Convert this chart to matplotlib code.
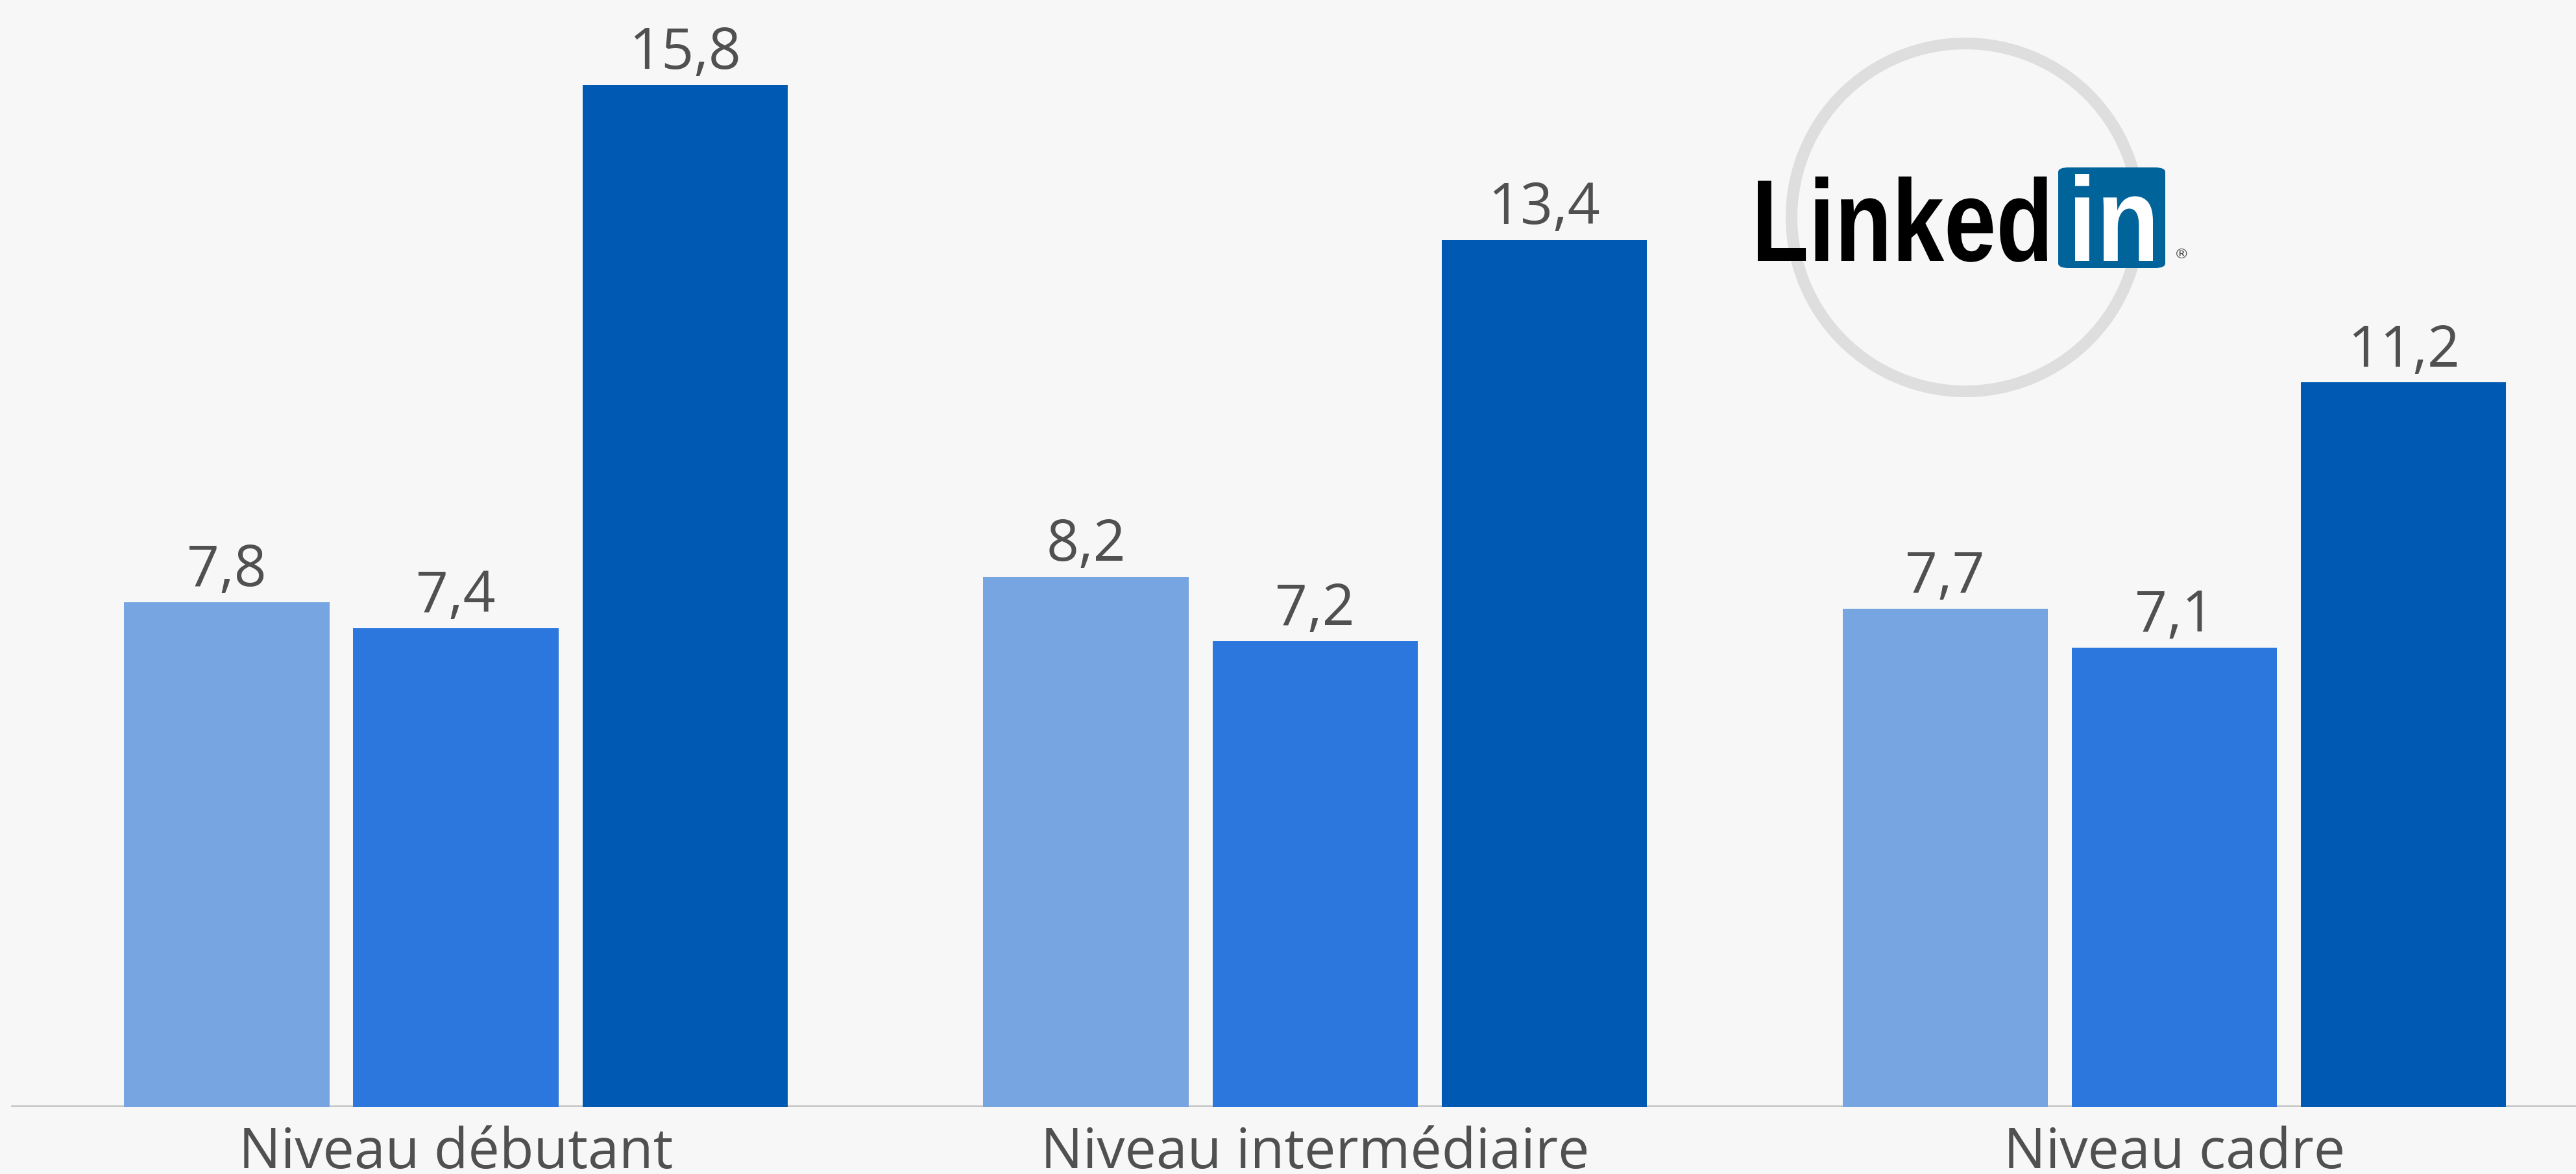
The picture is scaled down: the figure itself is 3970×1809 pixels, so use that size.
import numpy as np
import matplotlib
matplotlib.use("Agg")
import matplotlib.pyplot as plt
from matplotlib.textpath import TextPath
from matplotlib.font_manager import FontProperties
from matplotlib.patches import PathPatch, FancyBboxPatch, Ellipse
from matplotlib.transforms import Affine2D

# data
categories = ["Niveau débutant", "Niveau intermédiaire", "Niveau cadre"]
serie_a = [7.8, 8.2, 7.7]
serie_b = [7.4, 7.2, 7.1]
serie_c = [15.8, 13.4, 11.2]
colors = ["#76a5e1", "#2b77de", "#005ab3"]

W, H = 3970, 1809
bg = "#f7f7f7"
txt_col = "#505050"

fig = plt.figure(figsize=(W / 100, H / 100), dpi=100, facecolor=bg)
base_px = 1706
ax = fig.add_axes([17 / W, 1 - base_px / H, 1 - 17 / W, base_px / H])
ax.set_facecolor(bg)

x = np.arange(len(categories))
off = 0.2667
width = 0.239
for i, (vals, c) in enumerate(zip([serie_a, serie_b, serie_c], colors)):
    xs = x + (i - 1) * off
    ax.bar(xs, vals, width=width, color=c, zorder=3)
    for xx, v in zip(xs, vals):
        ax.text(xx, v + 0.25, f"{v:.1f}".replace(".", ","), ha="center", va="baseline",
                fontsize=63, color=txt_col, family="Open Sans", zorder=4)

# category labels sit right at the bottom edge, like the original
for xx, lab in zip(x, categories):
    ax.annotate(lab, xy=(xx, 0), xycoords=("data", "axes fraction"),
                xytext=(0, -68), textcoords="offset points", ha="center", va="baseline",
                fontsize=62, color=txt_col, family="Open Sans")

ax.axhline(0, color="#c8c8c8", lw=4, zorder=2)
ax.set_xlim((6.7 - 277.5) / 523, (1568 - 277.5) / 523)
ax.set_ylim(0, base_px / 99.69)
ax.axis("off")


# logo
def fx(px):
    return px / W


def fy(py):
    return 1 - py / H


ring = Ellipse((fx(3029), fy(335)), 2 * 268 / W, 2 * 268 / H, transform=fig.transFigure,
               fill=False, ec="#dedede", lw=13)
fig.patches.append(ring)


def fit_text(s, x0, x1, ytop, ybase, color):
    tp = TextPath((0, 0), s, size=100, prop=FontProperties(family="Liberation Sans", weight="bold"))
    ext = tp.get_extents()
    sx = (x1 - x0) / ext.width
    sy = (ybase - ytop) / ext.y1
    tr = Affine2D().translate(-ext.x0, 0).scale(sx / W, sy / H).translate(fx(x0), fy(ybase))
    fig.patches.append(PathPatch(tp, transform=tr + fig.transFigure, fc=color, ec="none"))


fit_text("Linked", 2709, 3155, 272, 402, "black")
box = FancyBboxPatch((fx(3172), fy(413)), (3337 - 3172) / W, (413 - 258) / H,
                     boxstyle="round,pad=0,rounding_size=0.004", transform=fig.transFigure,
                     fc="#00639a", ec="none")
fig.patches.append(box)
fit_text("in", 3198, 3318, 268, 402, "white")
fig.text(fx(3362), fy(392), "®", fontsize=16, color="#444444", ha="center", va="center")

fig.savefig("out.png", dpi=100, facecolor=bg)
